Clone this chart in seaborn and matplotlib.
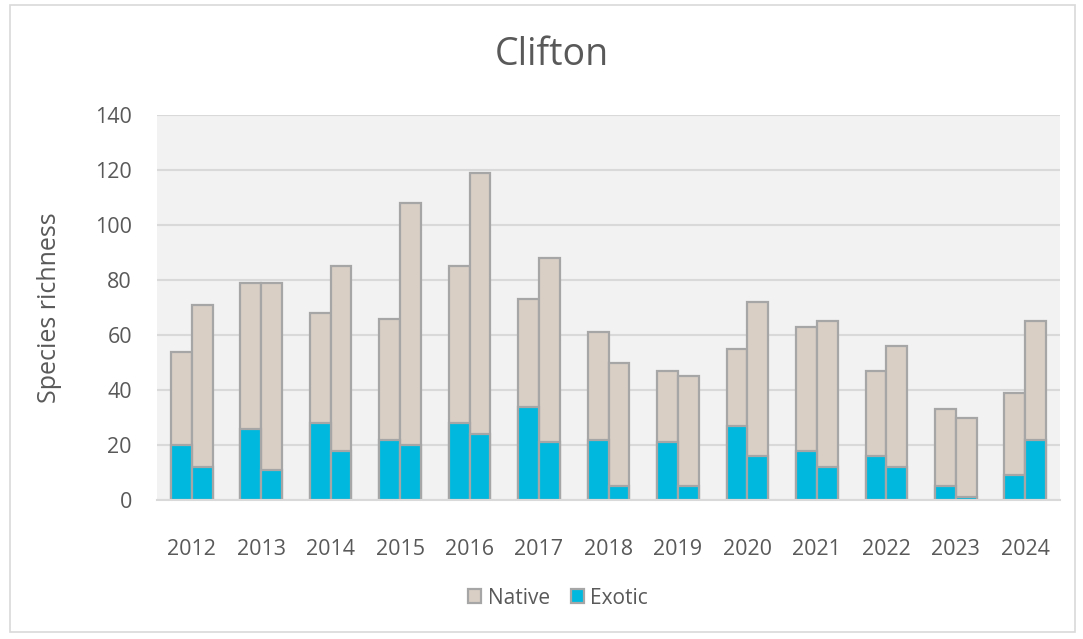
import matplotlib
matplotlib.use("Agg")
import matplotlib.pyplot as plt
import seaborn as sns
import pandas as pd
from matplotlib.patches import Patch, Rectangle

years = ["2012", "2013", "2014", "2015", "2016", "2017", "2018",
         "2019", "2020", "2021", "2022", "2023", "2024"]
# two surveys per year (first bar, second bar)
exotic_1 = [20, 26, 28, 22, 28, 34, 22, 21, 27, 18, 16, 5, 9]
native_1 = [34, 53, 40, 44, 57, 39, 39, 26, 28, 45, 31, 28, 30]
exotic_2 = [12, 11, 18, 20, 24, 21, 5, 5, 16, 12, 12, 1, 22]
native_2 = [59, 68, 67, 88, 95, 67, 45, 40, 56, 53, 44, 29, 43]

native_color = "#d9cfc5"
exotic_color = "#00b8de"
edge = "#a6a6a6"
text_color = "#595959"

rows = []
for i, y in enumerate(years):
    rows.append(dict(year=y, survey="A", exotic=exotic_1[i], native=native_1[i]))
    rows.append(dict(year=y, survey="B", exotic=exotic_2[i], native=native_2[i]))
df = pd.DataFrame(rows)
df["total"] = df["exotic"] + df["native"]

sns.set_theme(style="white")
plt.rcParams["font.family"] = ["Open Sans", "DejaVu Sans"]

fig = plt.figure(figsize=(10.83, 6.39), dpi=100)
ax = fig.add_axes([157 / 1083, 1 - 500 / 639, (1060 - 157) / 1083, (500 - 115) / 639])
ax.set_facecolor("#f2f2f2")

common = dict(x="year", hue="survey", order=years, hue_order=["A", "B"],
              width=0.6, gap=0, dodge=True, edgecolor=edge, linewidth=1.6,
              legend=False, ax=ax, zorder=3, saturation=1)
sns.barplot(data=df, y="total", palette=[native_color, native_color], **common)
sns.barplot(data=df, y="exotic", palette=[exotic_color, exotic_color], **common)

ax.set_ylim(0, 140)
ax.set_xlim(-0.5, len(years) - 0.5)
ax.set_yticks(range(0, 141, 20))
ax.yaxis.grid(True, color="#d9d9d9", linewidth=1.5, zorder=0)
ax.set_axisbelow(True)
for s in ["top", "right", "left"]:
    ax.spines[s].set_visible(False)
ax.spines["bottom"].set_color("#d9d9d9")
ax.spines["bottom"].set_linewidth(1.5)
ax.spines["bottom"].set_zorder(4)

ax.set_xticks(range(len(years)))
ax.set_xticklabels(years)
ax.set_xticks([i - 0.5 for i in range(len(years) + 1)], minor=True)
ax.tick_params(axis="x", which="major", length=0, pad=28, labelsize=15.5, labelcolor=text_color)
ax.tick_params(axis="x", which="minor", length=7, width=1.5, color="#d9d9d9")
ax.tick_params(axis="y", length=0, pad=18, labelsize=15.5, labelcolor=text_color)
ax.set_xlabel("")
ax.set_ylabel("Species richness", fontsize=18, color=text_color, labelpad=24)

fig.text(552 / 1083, 1 - 55 / 639, "Clifton", ha="center", va="center",
         fontsize=27, color=text_color)

handles = [Patch(facecolor=native_color, edgecolor=edge, linewidth=1.6, label="Native"),
           Patch(facecolor=exotic_color, edgecolor=edge, linewidth=1.6, label="Exotic")]
fig.legend(handles=handles, loc="center", bbox_to_anchor=(558 / 1083, 1 - 598 / 639),
           ncol=2, frameon=False, fontsize=15, labelcolor=text_color,
           handlelength=0.65, handleheight=0.65, handletextpad=0.3, columnspacing=1.0)

fig.patches.append(Rectangle((10 / 1083, 1 - 632 / 639), 1065 / 1083, 627 / 639,
                             transform=fig.transFigure, fill=False,
                             edgecolor="#d9d9d9", linewidth=1.2))

fig.savefig("out.png", dpi=100)
